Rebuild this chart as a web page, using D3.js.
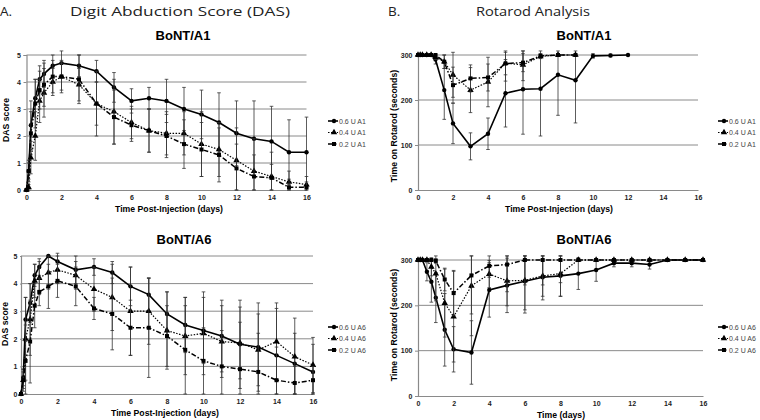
<!DOCTYPE html>
<html><head><meta charset="utf-8">
<script src="https://cdn.jsdelivr.net/npm/d3@7/dist/d3.min.js"></script>
<style>body{margin:0;background:#fff} svg{display:block}</style>
</head><body>
<svg id="c" width="760" height="420"></svg>
<script>
// ---------- DATA ----------
const dasTimes = [0, 0.125, 0.25, 0.5, 0.75, 1, 1.5, 2, 3, 4, 5, 6, 7, 8, 9, 10, 11, 12, 13, 14, 15, 16];
const xTicks = [0, 2, 4, 6, 8, 10, 12, 14, 16];
const dasTicks = [0, 1, 2, 3, 4, 5];
const rotTicks = [0, 100, 200, 300];

const dasA1_06 = [0, 0.7, 2.4, 3.4, 4.1, 4.3, 4.6, 4.7, 4.6, 4.4, 3.8, 3.3, 3.4, 3.3, 3.0, 2.8, 2.5, 2.1, 1.9, 1.8, 1.4, 1.4];
const dasA1_04 = [0, 0.1, 1.2, 2.0, 3.3, 3.6, 4.0, 4.2, 3.9, 3.2, 2.9, 2.5, 2.2, 2.1, 2.1, 1.7, 1.5, 1.1, 0.7, 0.5, 0.3, 0.2];
const dasA1_02 = [0, 0.7, 2.1, 3.2, 3.7, 3.9, 4.2, 4.2, 4.1, 3.2, 2.7, 2.4, 2.2, 2.0, 1.7, 1.5, 1.3, 0.8, 0.5, 0.45, 0.1, 0.1];
const errA1_06 = [0, 0.3, 0.9, 0.7, 0.5, 0.5, 0.4, 0.45, 0.4, 0.4, 0.55, 0.45, 0.4, 0.8, 0.8, 0.9, 1.1, 1.2, 1.4, 1.3, 1.2, 1.3];
const errA1_04 = [0, 0.1, 0.6, 0.9, 0.8, 0.9, 0.5, 0.6, 0.6, 1.2, 1.2, 0.6, 0.8, 0.8, 0.8, 1.2, 1.0, 1.2, 1.2, 0.9, 0.4, 0.3];
const errA1_02 = [0, 0.4, 0.8, 0.9, 0.7, 0.8, 0.6, 0.5, 0.9, 0.8, 1.0, 0.6, 0.8, 0.8, 0.9, 1.0, 1.0, 0.9, 0.8, 0.5, 0.3, 0.2];

const dasA6_06 = [0, 0.6, 2.7, 3.3, 4.3, 4.6, 5.0, 4.8, 4.5, 4.6, 4.4, 3.9, 3.6, 2.9, 2.5, 2.3, 2.1, 1.8, 1.7, 1.4, 1.1, 0.8];
const dasA6_04 = [0, 0.5, 2.0, 2.7, 4.1, 4.2, 4.4, 4.5, 4.3, 3.8, 3.5, 3.0, 3.0, 2.3, 2.1, 2.2, 1.9, 1.85, 1.6, 1.9, 1.35, 1.05];
const dasA6_02 = [0, 0.5, 1.2, 1.9, 3.2, 3.7, 3.9, 4.1, 3.9, 3.1, 2.9, 2.4, 2.4, 2.1, 1.6, 1.2, 1.0, 0.9, 0.8, 0.5, 0.4, 0.5];
const errA6_06 = [0, 0.3, 0.8, 0.7, 0.4, 0.3, 0, 0.3, 0.5, 0.3, 0.4, 0.7, 0.6, 0.8, 1.0, 1.2, 1.3, 1.6, 1.6, 1.7, 1.1, 1.0];
const errA6_04 = [0, 0.4, 1.5, 1.3, 0.6, 0.6, 0.6, 0.5, 0.5, 0.8, 1.2, 1.6, 1.2, 1.4, 1.4, 1.5, 1.3, 1.3, 1.3, 1.4, 1.4, 1.0];
const errA6_02 = [0, 0.3, 1.3, 1.5, 0.8, 0.5, 0.8, 0.6, 0.7, 0.4, 1.3, 1.0, 1.8, 1.1, 1.6, 1.2, 1.3, 1.7, 1.4, 1.2, 0.6, 0.5];

const rotA1Times06 = [0, 0.125, 0.25, 0.5, 0.75, 1, 1.5, 2, 3, 4, 5, 6, 7, 8, 9, 10, 11, 12];
const rotA1Times = [0, 0.125, 0.25, 0.5, 0.75, 1, 1.5, 2, 3, 4, 5, 6, 7, 8, 9];
const rotA1_06 = [300, 300, 300, 300, 300, 290, 222, 148, 97, 125, 215, 224, 225, 256, 244, 298, 299, 300];
const rotA1_04 = [300, 300, 300, 300, 300, 295, 285, 256, 222, 240, 282, 278, 297, 300, 300];
const rotA1_02 = [300, 300, 300, 300, 300, 300, 285, 233, 248, 250, 281, 283, 298, 300, 300];
const rerA1_06 = [0, 0, 0, 0, 0, 10, 65, 45, 30, 35, 75, 100, 105, 90, 95, 5, 3, 0];
const rerA1_04 = [0, 0, 0, 0, 0, 5, 15, 50, 50, 55, 40, 35, 5, 0, 0];
const rerA1_02 = [0, 0, 0, 0, 0, 0, 15, 40, 30, 30, 25, 20, 5, 0, 0];

const rotA6Times = [0, 0.125, 0.25, 0.5, 0.75, 1, 1.5, 2, 3, 4, 5, 6, 7, 8, 9, 10, 11, 12, 13, 14, 15, 16];
const rotA6_06 = [300, 300, 300, 274, 252, 217, 146, 103, 96, 234, 244, 253, 262, 265, 270, 278, 293, 293, 290, 300, 300, 300];
const rotA6_04 = [300, 300, 300, 300, 285, 270, 205, 175, 243, 269, 254, 255, 265, 270, 300, 300, 300, 300, 300, 300, 300, 300];
const rotA6_02 = [300, 300, 300, 300, 300, 298, 257, 227, 266, 287, 290, 300, 300, 300, 300, 300, 300, 300, 300, 300, 300, 300];
const rerA6_06 = [0, 0, 0, 20, 45, 55, 80, 50, 70, 60, 60, 70, 50, 45, 35, 25, 8, 8, 10, 0, 0, 0];
const rerA6_04 = [0, 0, 0, 0, 20, 60, 75, 100, 110, 30, 55, 65, 45, 50, 0, 0, 0, 0, 0, 0, 0, 0];
const rerA6_02 = [0, 0, 0, 0, 0, 5, 25, 50, 85, 25, 60, 55, 55, 50, 0, 0, 0, 0, 0, 0, 0, 0];

const labelsA1 = ["0.6 U A1", "0.4 U A1", "0.2 U A1"];
const labelsA6 = ["0.6 U A6", "0.4 U A6", "0.2 U A6"];

// ---------- DRAW ----------
const svg = d3.select("#c");
const FONT = "'Liberation Sans', Arial, sans-serif";
const styles = [
  {dash: null, sym: "circle", w: 1.6},
  {dash: "1.5,1.5", sym: "triangle", w: 1.2},
  {dash: "5,2,1.5,2", sym: "square", w: 1.5}
];
function marker(g, type, x, y) {
  if (type === "circle") g.append("circle").attr("cx", x).attr("cy", y).attr("r", 2.2).attr("fill", "#000");
  else if (type === "square") g.append("path").attr("d", d3.symbol(d3.symbolSquare, 16)()).attr("transform", `translate(${x},${y})`).attr("fill", "#000");
  else g.append("path").attr("d", d3.symbol(d3.symbolTriangle, 18)()).attr("transform", `translate(${x},${y})`).attr("fill", "#000");
}

function panel(o) {
  const x = d3.scaleLinear().domain([0, 16]).range([o.x0, o.x1]);
  const y = d3.scaleLinear().domain(o.yDomain).range([o.y0, o.y1]);
  const g = svg.append("g");
  g.selectAll(".grid").data(o.yTicks.slice(1)).enter().append("line")
    .attr("x1", o.x0).attr("x2", o.x1).attr("y1", d => y(d)).attr("y2", d => y(d))
    .attr("stroke", "#8a8a8a").attr("stroke-width", 1);
  const ya = g.append("g").attr("transform", `translate(${o.x0},0)`)
    .call(d3.axisLeft(y).tickValues(o.yTicks).tickFormat(d3.format("d")).tickSize(o.yTickSize).tickPadding(2.5));
  const xa = g.append("g").attr("transform", `translate(0,${o.y0})`)
    .call(d3.axisBottom(x).tickValues(xTicks).tickFormat(d3.format("d")).tickSize(0).tickPadding(5));
  [ya, xa].forEach(a => {
    a.select(".domain").attr("stroke", "#8a8a8a").attr("stroke-width", 1.2);
    a.selectAll(".tick line").attr("stroke", "#8a8a8a");
    a.selectAll("text").attr("font-family", FONT).attr("font-size", 7).attr("font-weight", "bold").attr("fill", "#222");
  });
  o.series.forEach((s, i) => {
    const st = styles[i];
    const pts = s.t.map((t, k) => ({t, v: s.v[k], e: s.e[k]}));
    const eg = g.append("g");
    pts.forEach(p => {
      if (p.e > 0) {
        const yt = y(Math.min(p.v + p.e, o.yDomain[1] * 1.03));
        const yb = y(Math.max(p.v - p.e, 0));
        eg.append("line").attr("x1", x(p.t)).attr("x2", x(p.t)).attr("y1", yt).attr("y2", yb).attr("stroke", "#333").attr("stroke-width", 0.8);
        eg.append("line").attr("x1", x(p.t) - 1.8).attr("x2", x(p.t) + 1.8).attr("y1", yt).attr("y2", yt).attr("stroke", "#333").attr("stroke-width", 0.8);
        eg.append("line").attr("x1", x(p.t) - 1.8).attr("x2", x(p.t) + 1.8).attr("y1", yb).attr("y2", yb).attr("stroke", "#333").attr("stroke-width", 0.8);
      }
    });
    g.append("path").datum(pts)
      .attr("d", d3.line().x(p => x(p.t)).y(p => y(p.v)))
      .attr("fill", "none").attr("stroke", "#000").attr("stroke-width", st.w)
      .attr("stroke-dasharray", st.dash);
    pts.forEach(p => marker(g, st.sym, x(p.t), y(p.v)));
    const ly = o.legY + i * 11.5;
    g.append("line").attr("x1", o.legX).attr("x2", o.legX + 10).attr("y1", ly).attr("y2", ly)
      .attr("stroke", "#000").attr("stroke-width", st.w).attr("stroke-dasharray", st.dash);
    marker(g, st.sym, o.legX + 6, ly);
    g.append("text").attr("x", o.legX + 11).attr("y", ly + 2.5).text(o.labels[i])
      .attr("font-family", FONT).attr("font-size", 7).attr("fill", "#444");
  });
  g.append("text").attr("x", o.titleX).attr("y", o.titleY).attr("text-anchor", "middle")
    .attr("font-family", FONT).attr("font-weight", "bold").attr("font-size", 13).text(o.title);
  g.append("text").attr("x", o.xLabX).attr("y", o.y0 + 22).attr("text-anchor", "middle")
    .attr("font-family", FONT).attr("font-weight", "bold").attr("font-size", 8.7).text(o.xLabel);
  g.append("text").attr("transform", `translate(${o.yLabX},${o.yLabY}) rotate(-90)`).attr("text-anchor", "middle")
    .attr("font-family", FONT).attr("font-weight", "bold").attr("font-size", 8.7).text(o.yLabel);
}

const mk = (t, vs, es) => vs.map((v, i) => ({t: Array.isArray(t[0]) ? t[i] : t, v, e: es[i]}));

panel({x0: 26.5, x1: 306.5, y0: 190, y1: 55, yDomain: [0, 5], yTicks: dasTicks, yTickSize: 3,
  series: mk(dasTimes, [dasA1_06, dasA1_04, dasA1_02], [errA1_06, errA1_04, errA1_02]),
  labels: labelsA1, legX: 328, legY: 121, title: "BoNT/A1", titleX: 183, titleY: 40,
  xLabel: "Time Post-Injection (days)", xLabX: 169, yLabel: "DAS score", yLabX: 8.5, yLabY: 120});
panel({x0: 21, x1: 313, y0: 394, y1: 256, yDomain: [0, 5], yTicks: dasTicks, yTickSize: 1,
  series: mk(dasTimes, [dasA6_06, dasA6_04, dasA6_02], [errA6_06, errA6_04, errA6_02]),
  labels: labelsA6, legX: 328, legY: 327, title: "BoNT/A6", titleX: 184, titleY: 244,
  xLabel: "Time Post-Injection (days)", xLabX: 165, yLabel: "DAS score", yLabX: 8, yLabY: 324});
panel({x0: 418, x1: 698, y0: 190, y1: 55, yDomain: [0, 300], yTicks: rotTicks, yTickSize: 3,
  series: mk([rotA1Times06, rotA1Times, rotA1Times], [rotA1_06, rotA1_04, rotA1_02], [rerA1_06, rerA1_04, rerA1_02]),
  labels: labelsA1, legX: 718, legY: 121, title: "BoNT/A1", titleX: 584, titleY: 40,
  xLabel: "Time Post-Injection (days)", xLabX: 559, yLabel: "Time on Rotarod (seconds)", yLabX: 397, yLabY: 126});
panel({x0: 418, x1: 703, y0: 396, y1: 260, yDomain: [0, 300], yTicks: rotTicks, yTickSize: 3,
  series: mk(rotA6Times, [rotA6_06, rotA6_04, rotA6_02], [rerA6_06, rerA6_04, rerA6_02]),
  labels: labelsA6, legX: 718, legY: 327, title: "BoNT/A6", titleX: 584, titleY: 244,
  xLabel: "Time (days)", xLabX: 561, yLabel: "Time on Rotarod (seconds)", yLabX: 397, yLabY: 325});

// headers
const H = "'Open Sans', 'Noto Sans', sans-serif";
const hdr = (x, txt, len) => {
  const t = svg.append("text").attr("x", x).attr("y", 16).attr("font-family", H).attr("font-size", 13.5).attr("fill", "#222").text(txt);
  if (len) t.attr("textLength", len).attr("lengthAdjust", "spacingAndGlyphs");
};
hdr(0, "A.");
hdr(70, "Digit Abduction Score (DAS)", 220);
hdr(388, "B.");
hdr(476, "Rotarod Analysis", 114);
</script>
</body></html>
